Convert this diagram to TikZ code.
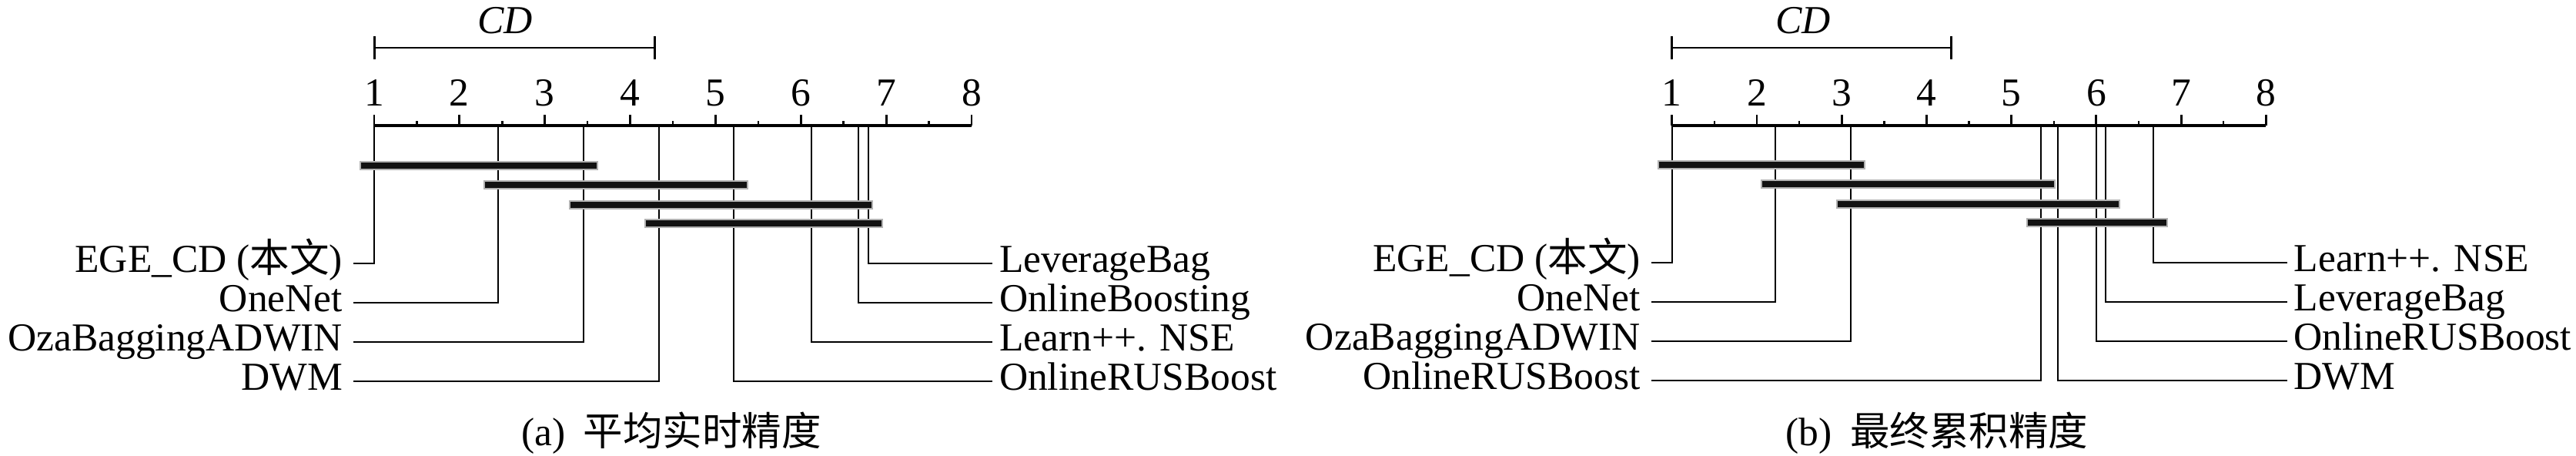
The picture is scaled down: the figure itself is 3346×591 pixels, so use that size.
\documentclass[tikz,border=0pt]{standalone}
\usepackage{fontspec}
\setmainfont{Liberation Serif}
\newfontfamily\cjk{Noto Sans CJK SC}
\newcommand{\lblfont}{\fontsize{15.45}{18}\selectfont}
\begin{document}
\begin{tikzpicture}[x=0.3pt,y=-0.3pt,
  lbl/.style={font=\lblfont, inner ysep=0pt, text height=10pt, text depth=3.4pt},
  lleft/.style={lbl, anchor=east, inner xsep=4pt},
  lright/.style={lbl, anchor=west, inner xsep=2.5pt},
  num/.style={font=\lblfont, anchor=base, inner sep=0pt},
  cdlab/.style={font=\lblfont\itshape, anchor=base, inner sep=0pt},
  caption/.style={font=\lblfont, anchor=base, inner sep=0pt},
  axisline/.style={line width=0.95pt},
  majortick/.style={line width=0.85pt},
  minortick/.style={line width=0.75pt},
  cdline/.style={line width=0.65pt},
  cdtick/.style={line width=0.9pt},
  conn/.style={line width=0.65pt, line join=miter},
  barhalo/.style={line width=3.6pt, draw=black!30},
  barcore/.style={line width=2.55pt, draw=black!93}
]
\useasboundingbox (0,0) rectangle (3346,591);

% ================= Panel (a) =================
\def\xo{486}\def\u{110.86}
% axis
\coordinate (axA1) at (\xo,163);
\coordinate (axA8) at ({\xo+7*\u},163);
\draw[axisline] (axA1) -- (axA8);
\foreach \k in {0,...,7}{
  \draw[majortick] ({\xo+\k*\u},149) -- ({\xo+\k*\u},163);
  \node[num] (na\k) at ({\xo+\k*\u},137) {\pgfmathparse{int(\k+1)}\pgfmathresult};
}
\foreach \k in {0,...,6}{
  \draw[minortick] ({\xo+(\k+0.5)*\u},157) -- ({\xo+(\k+0.5)*\u},163);
}
% CD
\coordinate (cdA1) at (\xo,62);
\coordinate (cdA2) at ({\xo+3.29*\u},62);
\draw[cdline] (cdA1) -- (cdA2);
\draw[cdtick] (\xo,47) -- (\xo,77);
\draw[cdtick] ({\xo+3.29*\u},47) -- ({\xo+3.29*\u},77);
\node[cdlab] (cdlabA) at (656,43) {CD};
% rank points
\coordinate (pa1) at (486,163);
\coordinate (pa2) at (646.7,163);
\coordinate (pa3) at (757.6,163);
\coordinate (pa4) at (856.3,163);
\coordinate (pa5) at (952.7,163);
\coordinate (pa6) at (1053.6,163);
\coordinate (pa7) at (1114.6,163);
\coordinate (pa8) at (1127.9,163);
% labels
\node[lleft] (La1) at (459,342) {EGE\_CD ({\cjk 本文})};
\node[lleft] (La2) at (459,393) {OneNet};
\node[lleft] (La3) at (459,444) {OzaBaggingADWIN};
\node[lleft] (La4) at (459,495) {DWM};
\node[lright] (Ra1) at (1289,342) {LeverageBag};
\node[lright] (Ra2) at (1289,393) {OnlineBoosting};
\node[lright] (Ra3) at (1289,444) {Learn++. NSE};
\node[lright] (Ra4) at (1289,495) {OnlineRUSBoost};
\draw[conn] (pa1) |- (La1.east);
\draw[conn] (pa2) |- (La2.east);
\draw[conn] (pa3) |- (La3.east);
\draw[conn] (pa4) |- (La4.east);
\draw[conn] (pa8) |- (Ra1.west);
\draw[conn] (pa7) |- (Ra2.west);
\draw[conn] (pa6) |- (Ra3.west);
\draw[conn] (pa5) |- (Ra4.west);
% bars
\foreach \a/\b/\y in {469/774.6/215, 629.7/969.7/240, 740.6/1131.6/266, 839.3/1144.9/290}{
  \draw[barhalo] ({\a-2},\y) -- ({\b+2},\y);
  \draw[barcore] (\a,\y) -- (\b,\y);
}
\node[caption] (capA) at (872,578) {(a)\hspace{7pt}{\cjk 平均实时精度}};

% ================= Panel (b) =================
\def\xo{2171.7}\def\u{110.23}
\coordinate (axB1) at (\xo,163);
\coordinate (axB8) at ({\xo+7*\u},163);
\draw[axisline] (axB1) -- (axB8);
\foreach \k in {0,...,7}{
  \draw[majortick] ({\xo+\k*\u},149) -- ({\xo+\k*\u},163);
  \node[num] (nb\k) at ({\xo+\k*\u},137) {\pgfmathparse{int(\k+1)}\pgfmathresult};
}
\foreach \k in {0,...,6}{
  \draw[minortick] ({\xo+(\k+0.5)*\u},157) -- ({\xo+(\k+0.5)*\u},163);
}
\coordinate (cdB1) at (\xo,62);
\coordinate (cdB2) at ({\xo+3.29*\u},62);
\draw[cdline] (cdB1) -- (cdB2);
\draw[cdtick] (\xo,47) -- (\xo,77);
\draw[cdtick] ({\xo+3.29*\u},47) -- ({\xo+3.29*\u},77);
\node[cdlab] (cdlabB) at (2342,43) {CD};
\coordinate (pb1) at (2171.7,163);
\coordinate (pb2) at (2305.7,163);
\coordinate (pb3) at (2404,163);
\coordinate (pb4) at (2650.7,163);
\coordinate (pb5) at (2673.3,163);
\coordinate (pb6) at (2722.7,163);
\coordinate (pb7) at (2735.3,163);
\coordinate (pb8) at (2797.3,163);
\node[lleft] (Lb1) at (2144.7,341) {EGE\_CD ({\cjk 本文})};
\node[lleft] (Lb2) at (2144.7,392) {OneNet};
\node[lleft] (Lb3) at (2144.7,443) {OzaBaggingADWIN};
\node[lleft] (Lb4) at (2144.7,494) {OnlineRUSBoost};
\node[lright] (Rb1) at (2970.7,341) {Learn++. NSE};
\node[lright] (Rb2) at (2970.7,392) {LeverageBag};
\node[lright] (Rb3) at (2970.7,443) {OnlineRUSBoost};
\node[lright] (Rb4) at (2970.7,494) {DWM};
\draw[conn] (pb1) |- (Lb1.east);
\draw[conn] (pb2) |- (Lb2.east);
\draw[conn] (pb3) |- (Lb3.east);
\draw[conn] (pb4) |- (Lb4.east);
\draw[conn] (pb8) |- (Rb1.west);
\draw[conn] (pb7) |- (Rb2.west);
\draw[conn] (pb6) |- (Rb3.west);
\draw[conn] (pb5) |- (Rb4.west);
\foreach \a/\b/\y in {2154.7/2421/214, 2288.7/2667.7/239, 2387/2752.3/265, 2633.7/2814.3/289}{
  \draw[barhalo] ({\a-2},\y) -- ({\b+2},\y);
  \draw[barcore] (\a,\y) -- (\b,\y);
}
\node[caption] (capB) at (2516,578) {(b)\hspace{7pt}{\cjk 最终累积精度}};
\end{tikzpicture}
\end{document}
